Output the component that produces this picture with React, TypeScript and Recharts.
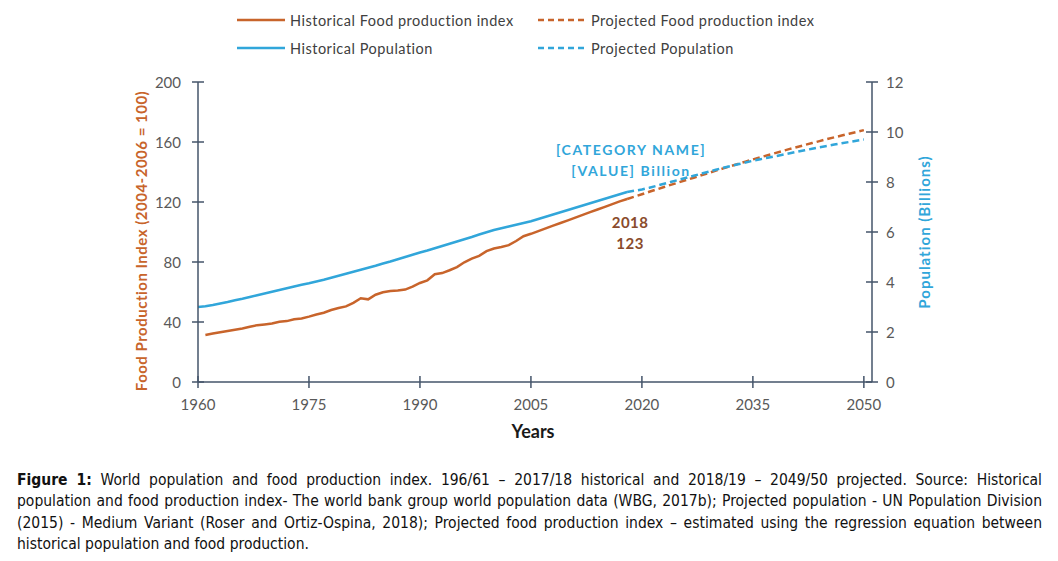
import React from 'react';
import { LineChart, Line, XAxis, YAxis, Legend, ReferenceDot, Label } from 'recharts';

const FONT = 'Lato, "Open Sans", sans-serif';
const AXIS = '#44546a';
const TICK_TEXT = '#595959';
const ORANGE = '#c8642b';
const BLUE = '#31a6da';
const BROWN = '#8a4b2c';

// Historical population (billions), 1960-2018
const HIST_POP_START = 1960;
const histPop = [
  3.0, 3.03, 3.08, 3.14, 3.2, 3.27, 3.33, 3.4, 3.47, 3.54,
  3.61, 3.68, 3.75, 3.82, 3.89, 3.95, 4.02, 4.09, 4.17, 4.25,
  4.33, 4.41, 4.49, 4.57, 4.65, 4.74, 4.82, 4.91, 5.0, 5.09,
  5.18, 5.26, 5.35, 5.44, 5.53, 5.62, 5.71, 5.8, 5.9, 5.99,
  6.08, 6.15, 6.22, 6.29, 6.36, 6.43, 6.52, 6.61, 6.7, 6.79,
  6.88, 6.97, 7.06, 7.15, 7.24, 7.33, 7.42, 7.51, 7.6,
];

// Historical food production index (2004-2006 = 100), 1961-2018
const HIST_FOOD_START = 1961;
const histFood = [
  31.3, 32.3, 33.2, 34.0, 34.8, 35.7, 36.8, 37.9, 38.4,
  39.0, 40.2, 40.6, 41.8, 42.4, 43.6, 45.0, 46.2, 48.0, 49.3,
  50.4, 52.8, 55.8, 55.1, 58.2, 59.8, 60.6, 61.0, 61.6, 63.6,
  66.0, 67.8, 71.8, 72.6, 74.5, 76.6, 79.8, 82.2, 84.1, 87.2,
  89.0, 90.0, 91.2, 94.0, 97.2, 98.8, 100.6, 102.4, 104.2, 106.0,
  107.8, 109.6, 111.4, 113.2, 115.0, 116.8, 118.6, 120.4, 122.0,
];

// Projections, 2018-2050
const PROJ_START = 2018;
const projFood = [
  122.0, 123.6, 125.2, 126.8, 128.4, 130.0, 131.6, 133.1, 134.7, 136.2,
  137.8, 139.3, 140.9, 142.4, 143.9, 145.4, 146.9, 148.4, 149.8, 151.2,
  152.6, 154.0, 155.4, 156.7, 158.0, 159.3, 160.6, 161.9, 163.1, 164.3,
  165.5, 166.7, 167.9,
];
const projPop = [
  7.6, 7.65, 7.7, 7.77, 7.85, 7.93, 8.01, 8.09, 8.17, 8.25,
  8.33, 8.41, 8.49, 8.57, 8.64, 8.71, 8.78, 8.85, 8.91, 8.97,
  9.03, 9.09, 9.15, 9.21, 9.27, 9.33, 9.39, 9.44, 9.5, 9.55,
  9.6, 9.65, 9.7,
];

const yearTicks = [1960, 1975, 1990, 2005, 2020, 2035, 2050];
const foodTicks = [0, 40, 80, 120, 160, 200];
const popTicks = [0, 2, 4, 6, 8, 10, 12];

// legend grid position (column, row) per series
const legendSlots: Record<string, [number, number]> = {
  histFood: [0, 0],
  projFood: [1, 0],
  histPop: [0, 1],
  projPop: [1, 1],
};

const FIRST_YEAR = 1960;
const LAST_YEAR = 2050;

const data: any[] = [];
for (let yr = FIRST_YEAR; yr <= LAST_YEAR; yr++) {
  const hp = histPop[yr - HIST_POP_START];
  const hf = histFood[yr - HIST_FOOD_START];
  const pf = projFood[yr - PROJ_START];
  const pp = projPop[yr - PROJ_START];
  data.push({
    year: yr,
    histFood: hf === undefined ? null : hf,
    histPop: hp === undefined ? null : hp,
    projFood: pf === undefined ? null : pf,
    projPop: pp === undefined ? null : pp,
  });
}

const tickText = { fontFamily: FONT, fontSize: 15, fill: TICK_TEXT };

const XTick = (props: any) => {
  const { x, y, payload } = props;
  return (
    <g>
      <line x1={x} x2={x} y1={y - 6} y2={y + 6} stroke={AXIS} strokeWidth={1.5} />
      <text x={x} y={y + 22} textAnchor="middle" dominantBaseline="central" {...tickText}>
        {payload.value}
      </text>
    </g>
  );
};

const LeftTick = (props: any) => {
  const { x, y, payload } = props;
  return (
    <g>
      <line x1={x - 6} x2={x + 6} y1={y} y2={y} stroke={AXIS} strokeWidth={1.5} />
      <text x={x - 17} y={y} textAnchor="end" dominantBaseline="central" {...tickText}>
        {payload.value}
      </text>
    </g>
  );
};

const RightTick = (props: any) => {
  const { x, y, payload } = props;
  return (
    <g>
      <line x1={x - 6} x2={x + 6} y1={y} y2={y} stroke={AXIS} strokeWidth={1.5} />
      <text x={x + 14} y={y} textAnchor="start" dominantBaseline="central" {...tickText}>
        {payload.value}
      </text>
    </g>
  );
};

const YearsLabel = (props: any) => {
  const vb = props.viewBox || {};
  return (
    <text
      x={vb.x + vb.width / 2 - 2}
      y={vb.y + 49}
      textAnchor="middle"
      dominantBaseline="central"
      fontFamily={FONT}
      fontWeight={700}
      fontSize={18}
      fill="#1a1a1a"
    >
      Years
    </text>
  );
};

const FoodAxisLabel = (props: any) => {
  const vb = props.viewBox || {};
  const cx = vb.x + 13;
  const cy = vb.y + 159;
  return (
    <text
      x={cx}
      y={cy}
      transform={`rotate(-90 ${cx} ${cy})`}
      textAnchor="middle"
      dominantBaseline="central"
      fontFamily={FONT}
      fontWeight={700}
      fontSize={15}
      letterSpacing={0.5}
      fill={ORANGE}
    >
      Food Production Index (2004-2006 = 100)
    </text>
  );
};

const PopAxisLabel = (props: any) => {
  const vb = props.viewBox || {};
  const cx = vb.x + 52;
  const cy = vb.y + 150;
  return (
    <text
      x={cx}
      y={cy}
      transform={`rotate(-90 ${cx} ${cy})`}
      textAnchor="middle"
      dominantBaseline="central"
      fontFamily={FONT}
      fontWeight={700}
      fontSize={15}
      letterSpacing={1}
      fill={BLUE}
    >
      Population (Billions)
    </text>
  );
};

const PopPointLabel = (props: any) => {
  const vb = props.viewBox || {};
  const cx = vb.x + (vb.width || 0) / 2 + 4;
  const cy = vb.y + (vb.height || 0) / 2;
  const common = {
    textAnchor: 'middle' as const,
    dominantBaseline: 'central' as const,
    fontFamily: FONT,
    fontWeight: 700,
    fontSize: 14,
    fill: BLUE,
    letterSpacing: 1.6,
  };
  return (
    <g>
      <text x={cx} y={cy - 43} {...common}>[CATEGORY NAME]</text>
      <text x={cx} y={cy - 22} {...common}>[VALUE] Billion</text>
    </g>
  );
};

const FoodPointLabel = (props: any) => {
  const vb = props.viewBox || {};
  const cx = vb.x + (vb.width || 0) / 2 + 3;
  const cy = vb.y + (vb.height || 0) / 2;
  const common = {
    textAnchor: 'middle' as const,
    dominantBaseline: 'central' as const,
    fontFamily: FONT,
    fontWeight: 700,
    fontSize: 15,
    letterSpacing: 0.5,
    fill: BROWN,
  };
  return (
    <g>
      <text x={cx} y={cy + 23} {...common}>2018</text>
      <text x={cx} y={cy + 44} {...common}>123</text>
    </g>
  );
};

const LegendContent = (props: any) => {
  const { payload = [] } = props;
  return (
    <div style={{ position: 'relative', width: 700, height: 56 }}>
      {payload.map((entry: any, i: number) => {
        const key = String(entry.dataKey);
        const [col, row] = legendSlots[key] || [i % 2, Math.floor(i / 2)];
        const dashed = key.startsWith('proj');
        return (
          <div
            key={key}
            style={{
              position: 'absolute',
              left: col * 301,
              top: row * 28,
              height: 20,
              display: 'flex',
              alignItems: 'center',
              whiteSpace: 'nowrap',
            }}
          >
            <svg width={48} height={10} style={{ display: 'block' }}>
              <line
                x1={0}
                x2={48}
                y1={5}
                y2={5}
                stroke={entry.color}
                strokeWidth={2.5}
                strokeDasharray={dashed ? '6 4' : undefined}
              />
            </svg>
            <span
              style={{
                marginLeft: 5,
                fontFamily: FONT,
                fontSize: 14.5,
                letterSpacing: 0.5,
                color: '#404040',
              }}
            >
              {entry.value}
            </span>
          </div>
        );
      })}
    </div>
  );
};

const captionLines = [
  [
    { b: true, t: 'Figure 1:' },
    { b: false, t: ' World population and food production index. 196/61 – 2017/18 historical and 2018/19 – 2049/50 projected. Source: Historical' },
  ],
  [{ b: false, t: 'population and food production index- The world bank group world population data (WBG, 2017b); Projected population - UN Population Division' }],
  [{ b: false, t: '(2015) - Medium Variant (Roser and Ortiz-Ospina, 2018); Projected food production index – estimated using the regression equation between' }],
  [{ b: false, t: 'historical population and food production.' }],
];

export default function App() {
  return (
    <div style={{ width: 1042, background: '#fff' }}>
      <LineChart
        width={1042}
        height={455}
        data={data}
        margin={{ top: 18, right: 98, bottom: 21, left: 120 }}
      >
        <XAxis
          dataKey="year"
          type="number"
          domain={[1960, 2051.1]}
          allowDataOverflow
          ticks={yearTicks}
          interval={0}
          axisLine={{ stroke: AXIS, strokeWidth: 1.5 }}
          tickLine={false}
          tickSize={0}
          tickMargin={0}
          tick={<XTick />}
          height={60}
        >
          <Label content={<YearsLabel />} />
        </XAxis>
        <YAxis
          yAxisId="food"
          orientation="left"
          domain={[0, 200]}
          ticks={foodTicks}
          interval={0}
          allowDataOverflow
          axisLine={{ stroke: AXIS, strokeWidth: 1.5 }}
          tickLine={false}
          tickSize={0}
          tickMargin={0}
          tick={<LeftTick />}
          width={70}
        >
          <Label content={<FoodAxisLabel />} />
        </YAxis>
        <YAxis
          yAxisId="pop"
          orientation="right"
          domain={[0, 12]}
          ticks={popTicks}
          interval={0}
          allowDataOverflow
          axisLine={{ stroke: AXIS, strokeWidth: 1.5 }}
          tickLine={false}
          tickSize={0}
          tickMargin={0}
          tick={<RightTick />}
          width={80}
        >
          <Label content={<PopAxisLabel />} />
        </YAxis>
        <Legend
          verticalAlign="top"
          align="left"
          content={<LegendContent />}
          wrapperStyle={{ top: 2, left: 229, width: 700 }}
        />
        <Line
          yAxisId="food"
          dataKey="histFood"
          name="Historical Food production index"
          stroke={ORANGE}
          strokeWidth={2.5}
          dot={false}
          activeDot={false}
          isAnimationActive={false}
        />
        <Line
          yAxisId="food"
          dataKey="projFood"
          name="Projected Food production index"
          stroke={ORANGE}
          strokeWidth={2.5}
          strokeDasharray="7 4"
          dot={false}
          activeDot={false}
          isAnimationActive={false}
        />
        <Line
          yAxisId="pop"
          dataKey="histPop"
          name="Historical Population"
          stroke={BLUE}
          strokeWidth={2.5}
          dot={false}
          activeDot={false}
          isAnimationActive={false}
        />
        <Line
          yAxisId="pop"
          dataKey="projPop"
          name="Projected Population"
          stroke={BLUE}
          strokeWidth={2.5}
          strokeDasharray="7 4"
          dot={false}
          activeDot={false}
          isAnimationActive={false}
        />
        <ReferenceDot
          yAxisId="pop"
          x={PROJ_START}
          y={projPop[0]}
          r={0}
          fill="none"
          stroke="none"
          label={<PopPointLabel />}
        />
        <ReferenceDot
          yAxisId="food"
          x={PROJ_START}
          y={projFood[0]}
          r={0}
          fill="none"
          stroke="none"
          label={<FoodPointLabel />}
        />
      </LineChart>
      <div
        style={{
          marginTop: 7,
          paddingLeft: 9,
          width: 1025,
          fontFamily: '"Liberation Sans Narrow", "DejaVu Sans Condensed", sans-serif',
          fontSize: 15.5,
          lineHeight: '21.4px',
          color: '#111',
        }}
      >
        {captionLines.map((line, i) => (
          <div
            key={i}
            style={{
              whiteSpace: 'nowrap',
              textAlign: i < captionLines.length - 1 ? 'justify' : 'left',
              textAlignLast: i < captionLines.length - 1 ? 'justify' : 'left',
            }}
          >
            {line.map((seg, j) => (
              <span key={j} style={{ fontWeight: seg.b ? 700 : 400 }}>
                {seg.t}
              </span>
            ))}
          </div>
        ))}
      </div>
    </div>
  );
}
